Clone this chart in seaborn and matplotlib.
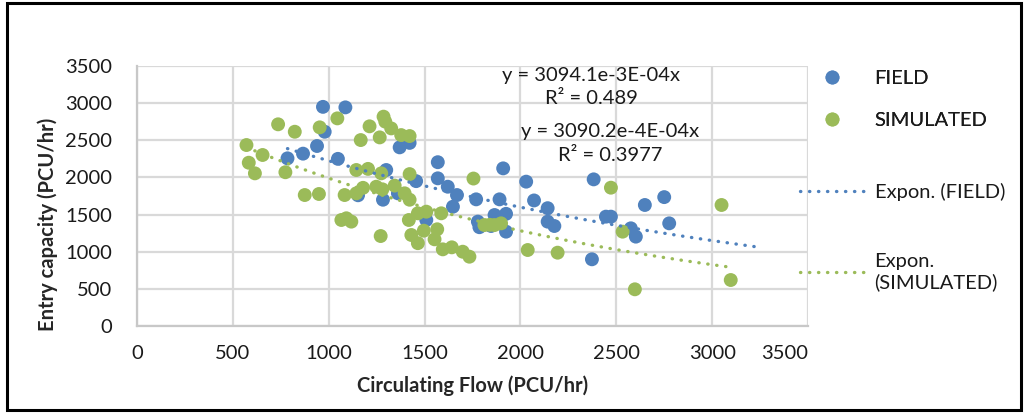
import matplotlib

matplotlib.use("Agg")

import matplotlib.pyplot as plt
import numpy as np
import pandas as pd
import seaborn as sns
from matplotlib.lines import Line2D
from matplotlib.patches import Rectangle

# circulating flow (x) and entry capacity (y), PCU/hr
FIELD_X = [785, 866, 939, 970, 979, 1048, 1087, 1153, 1283, 1300, 1361, 1370, 1422,
           1456, 1509, 1569, 1569, 1621, 1648, 1669, 1769, 1778, 1786, 1847, 1865,
           1891, 1910, 1925, 1925, 2030, 2071, 2142, 2142, 2177, 2373, 2382, 2446,
           2472, 2576, 2602, 2649, 2750, 2776]
FIELD_Y = [2257, 2320, 2423, 2950, 2615, 2250, 2943, 1760, 1700, 2100, 1786, 2405, 2465,
           1950, 1427, 2205, 1988, 1875, 1606, 1763, 1705, 1405, 1330, 1346, 1494,
           1705, 2122, 1510, 1270, 1943, 1690, 1586, 1405, 1346, 898, 1974, 1472,
           1472, 1315, 1203, 1629, 1735, 1382]

SIM_X = [571, 583, 615, 655, 736, 774, 823, 875, 949, 953, 1045, 1066, 1083, 1092, 1118,
         1144, 1144, 1167, 1179, 1205, 1213, 1248, 1266, 1271, 1274, 1280, 1286, 1295,
         1326, 1344, 1378, 1396, 1422, 1422, 1422, 1418, 1431, 1465, 1465, 1496, 1509,
         1552, 1566, 1587, 1595, 1642, 1699, 1734, 1755, 1812, 1840, 1865, 1899, 2038,
         2194, 2472, 2533, 2597, 3049, 3097]
SIM_Y = [2436, 2198, 2055, 2302, 2715, 2070, 2615, 1763, 1777, 2674, 2795, 1427, 1763, 1450,
         1405, 2100, 1786, 2503, 1860, 2115, 2688, 1875, 2539, 1211, 2055, 1840, 2818, 2751,
         2660, 1890, 2570, 1786, 2557, 2045, 1700, 1427, 1225, 1517, 1115, 1283, 1539,
         1167, 1302, 1517, 1032, 1059, 1000, 933, 1985, 1359, 1362, 1359, 1382, 1023,
         987, 1862, 1270, 494, 1629, 619]

# exponential trendlines y = a * exp(b * x)
FIELD_FIT = (3094.1, -3.3e-4)
SIM_FIT = (3090.2, -4.4e-4)
FIELD_FIT_END = 3250

X_TICKS = [0, 500, 1000, 1500, 2000, 2500, 3000, 3500]
Y_TICKS = [0, 500, 1000, 1500, 2000, 2500, 3000, 3500]

BLUE = "#4F81BD"
GREEN = "#9BBB59"
DOTTED = (0, (0.1, 2.6))

sns.set_theme(style="whitegrid")
plt.rcParams.update({
    "font.family": ["Lato", "DejaVu Sans"],
    "axes.edgecolor": "#c8c8c8",
    "grid.color": "#d9d9d9",
    "grid.linewidth": 1.6,
    "text.color": "#1a1a1a",
    "xtick.color": "#1a1a1a",
    "ytick.color": "#1a1a1a",
})

df = pd.concat([
    pd.DataFrame({"flow": FIELD_X, "cap": FIELD_Y, "series": "FIELD"}),
    pd.DataFrame({"flow": SIM_X, "cap": SIM_Y, "series": "SIMULATED"}),
], ignore_index=True)

fig = plt.figure(figsize=(10.28, 4.13), dpi=100)
ax = fig.add_axes([137 / 1028, 1 - 326 / 413, 671 / 1028, 260 / 413])

sns.scatterplot(data=df, x="flow", y="cap", hue="series",
                palette={"FIELD": BLUE, "SIMULATED": GREEN},
                s=100, edgecolor="none", alpha=1.0, legend=False, ax=ax, zorder=3)

dot = dict(linestyle=DOTTED, linewidth=2.4, dash_capstyle="round", zorder=4)
xf = np.linspace(min(FIELD_X), FIELD_FIT_END, 200)
ax.plot(xf, FIELD_FIT[0] * np.exp(FIELD_FIT[1] * xf), color=BLUE, **dot)
xs = np.linspace(min(SIM_X), max(SIM_X) - 25, 200)
ax.plot(xs, SIM_FIT[0] * np.exp(SIM_FIT[1] * xs), color=GREEN, **dot)

ax.set_xlim(0, 3500)
ax.set_ylim(0, 3500)
ax.set_xticks(X_TICKS)
ax.set_yticks(Y_TICKS)
ax.tick_params(length=0, labelsize=14.5)
ax.tick_params(axis="x", pad=14)
ax.tick_params(axis="y", pad=18)
ax.get_xticklabels()[-1].set_horizontalalignment("right")
for side in ["top", "right"]:
    ax.spines[side].set_visible(False)
for side in ["left", "bottom"]:
    ax.spines[side].set_linewidth(1.6)

ax.set_xlabel("Circulating Flow (PCU/hr)", fontsize=14.5, fontweight="bold")
ax.set_ylabel("Entry capacity (PCU/hr)", fontsize=14.5, fontweight="bold")
ax.xaxis.set_label_coords(0.5, -0.19)
ax.yaxis.set_label_coords(-0.118, 0.39)

ax.text(2370, 3217, "y = 3094.1e-3E-04x\nR² = 0.489", ha="center", va="center",
        fontsize=14.5, linespacing=1.45)
ax.text(2470, 2456, "y = 3090.2e-4E-04x\nR² = 0.3977", ha="center", va="center",
        fontsize=14.5, linespacing=1.45)

marker_handles = [
    Line2D([0], [0], marker="o", color="none", markerfacecolor=BLUE, markeredgecolor="none",
           markersize=10, label="FIELD"),
    Line2D([0], [0], marker="o", color="none", markerfacecolor=GREEN, markeredgecolor="none",
           markersize=10, label="SIMULATED"),
]
trend_handles = [
    Line2D([0], [0], color=BLUE, linestyle=DOTTED, linewidth=2.4,
           dash_capstyle="round", label="Expon. (FIELD)"),
    Line2D([0], [0], color=GREEN, linestyle=DOTTED, linewidth=2.4,
           dash_capstyle="round", label="Expon.\n(SIMULATED)"),
]
leg_kw = dict(loc="upper left", frameon=False, fontsize=14.5, handlelength=3.2,
              handletextpad=0.5, borderpad=0)
leg1 = fig.legend(handles=marker_handles, bbox_to_anchor=(790 / 1028, 1 - 60 / 413),
                  labelspacing=1.25, **leg_kw)
fig.legend(handles=trend_handles, bbox_to_anchor=(790 / 1028, 1 - 173 / 413),
           labelspacing=2.6, **leg_kw)
fig.add_artist(leg1)

fig.add_artist(Rectangle((0.007, 0.008), 0.986, 0.984, transform=fig.transFigure,
                         fill=False, edgecolor="black", linewidth=2.2))

fig.savefig("out.png", dpi=100, facecolor="white")
